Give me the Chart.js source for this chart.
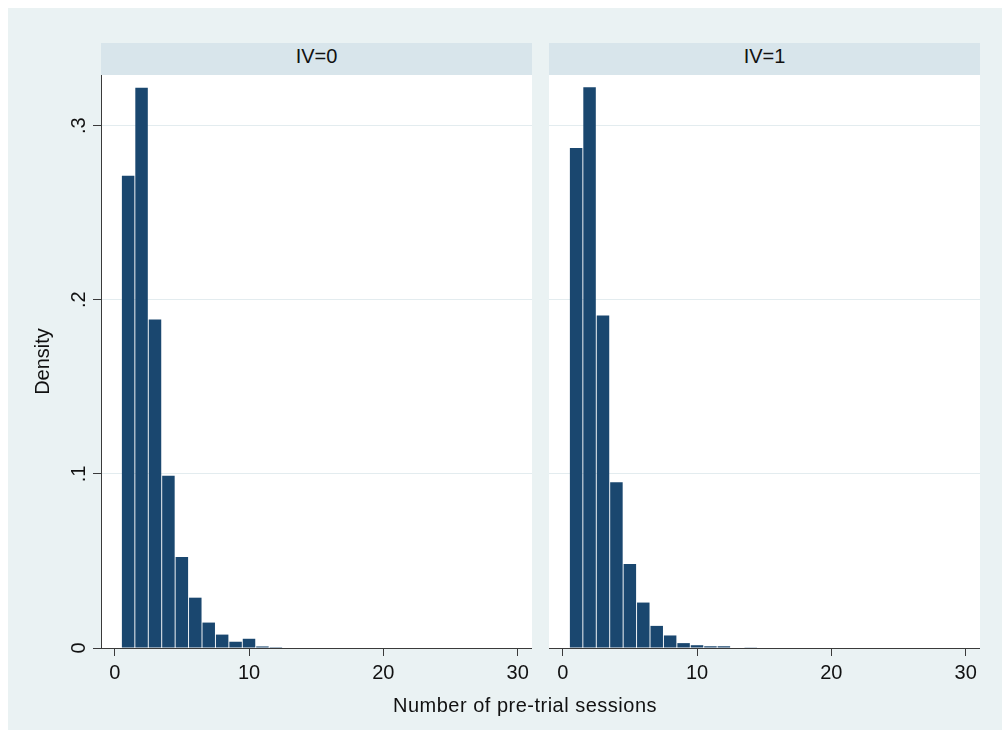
<!DOCTYPE html>
<html>
<head>
<meta charset="utf-8">
<script src="https://cdn.jsdelivr.net/npm/chart.js@4.4.1/dist/chart.umd.min.js"></script>
<style>
  html, body { margin:0; padding:0; background:#fff; }
  body { width:1002px; height:736px; position:relative; overflow:hidden; font-family:"Liberation Sans", Arial, sans-serif; }
  #bg { position:absolute; left:8px; top:8px; width:994px; height:722px; background:#eaf2f3; }
  .strip { position:absolute; top:43px; height:32px; line-height:27px; background:#d8e5eb; text-align:center; font-size:20px; color:#111; }
  .panel { position:absolute; top:75px; height:620px; }
  #xtitle { position:absolute; left:325px; width:400px; top:693px; line-height:24px; text-align:center; font-size:20px; letter-spacing:0.5px; color:#111; }
</style>
</head>
<body>
<div id="bg"></div>
<div class="strip" style="left:101px;width:431px">IV=0</div>
<div class="strip" style="left:549px;width:431px">IV=1</div>
<div class="panel" style="left:8px;width:524px"><canvas id="chartIV0"></canvas></div>
<div class="panel" style="left:549px;width:431px"><canvas id="chartIV1"></canvas></div>
<div id="xtitle">Number of pre-trial sessions</div>
<script>
// histogram bins (number of sessions) and densities
const bins = [1,2,3,4,5,6,7,8,9,10,11,12,13,14,15,16,17,18,19,20,21,22,23,24,25,26,27,28,29,30];
const densityIV0 = [0.2713,0.3218,0.1887,0.0990,0.0522,0.0289,0.0146,0.0077,0.0036,0.0053,0.0009,0.0005,0.0003,0.0003,0,0,0,0,0,0,0,0,0,0,0,0,0,0,0,0];
const densityIV1 = [0.2872,0.3220,0.1910,0.0952,0.0482,0.0261,0.0127,0.0072,0.0028,0.0016,0.0010,0.0010,0,0.0004,0,0,0,0,0,0,0,0,0,0,0,0,0,0,0,0];
const xTicks = [0,10,20,30];
const yTicks = [0,0.1,0.2,0.3];

const FONT = { family:'"Liberation Sans", Arial, sans-serif', size:20 };
const AXIS = '#3a3a3a';
const GRID = '#e3ecef';

function yLabel(v){ return v === 0 ? '0' : '.' + Math.round(v*10); }

// white plot region behind the bars
const plotBg = {
  id:'plotBg',
  beforeDraw(chart){
    const a = chart.chartArea, ctx = chart.ctx;
    ctx.save();
    ctx.fillStyle = '#fff';
    ctx.fillRect(a.left, a.top, a.right - a.left, a.bottom - a.top);
    ctx.restore();
  }
};

function makeChart(id, values, showY){
  return new Chart(document.getElementById(id), {
    type:'bar',
    data:{ datasets:[{
      data: bins.map((b,i) => ({x:b, y:values[i]})),
      backgroundColor:'#1a476f',
      borderWidth:0,
      barPercentage:0.93,
      categoryPercentage:1
    }]},
    plugins:[plotBg],
    options:{
      responsive:true, maintainAspectRatio:false, animation:false,
      layout:{ padding:0 },
      plugins:{ legend:{display:false}, tooltip:{enabled:false} },
      scales:{
        x:{
          type:'linear', min:-1.02, max:31.07, offset:false,
          afterBuildTicks: s => { s.ticks = xTicks.map(v => ({value:v})); },
          ticks:{ font:FONT, color:'#111', padding:5, maxRotation:0, callback: v => String(v) },
          grid:{ offset:false, drawOnChartArea:false, drawTicks:true, tickLength:8, color:AXIS, tickColor:AXIS },
          border:{ display:true, color:AXIS, width:1 },
          afterFit: s => { s.height = 47; s.paddingLeft = 0; s.paddingRight = 0; }
        },
        y:{
          type:'linear', min:0, max:0.3291,
          afterBuildTicks: s => { s.ticks = yTicks.map(v => ({value:v})); },
          ticks:{ display:showY, font:FONT, color:'#111', padding:5, minRotation:90, maxRotation:90, crossAlign:'center', callback: yLabel },
          grid:{ color: ctx => ctx.tick && ctx.tick.value === 0 ? 'rgba(0,0,0,0)' : GRID, lineWidth:1, drawTicks:showY, tickLength:8, tickColor:AXIS },
          border:{ display:showY, color:AXIS, width:1 },
          title:{ display:showY, text:'Density', font:FONT, color:'#111', padding:{top:23, bottom:0} },
          afterFit: s => { s.width = showY ? 93 : 0; s.paddingTop = 0; s.paddingBottom = 0; }
        }
      }
    }
  });
}

makeChart('chartIV0', densityIV0, true);
makeChart('chartIV1', densityIV1, false);
</script>
</body>
</html>
